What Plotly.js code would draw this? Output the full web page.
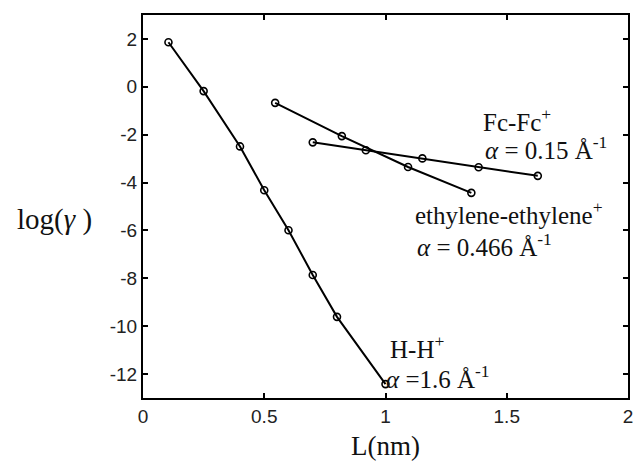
<!DOCTYPE html>
<html>
<head>
<meta charset="utf-8">
<script src="https://cdn.plot.ly/plotly-3.0.1.min.js"></script>
<style>html,body{margin:0;padding:0;background:#fff;}#chart{width:633px;height:464px;}</style>
</head>
<body>
<div id="chart"></div>
<script>
// H-H+ series
var hhX = [0.105, 0.25, 0.40, 0.50, 0.60, 0.70, 0.80, 1.00];
var hhY = [1.86, -0.18, -2.49, -4.32, -5.99, -7.86, -9.61, -12.42];
// ethylene-ethylene+ series
var ethX = [0.545, 0.82, 1.093, 1.354];
var ethY = [-0.67, -2.06, -3.35, -4.43];
// Fc-Fc+ series
var fcX = [0.70, 0.919, 1.152, 1.384, 1.628];
var fcY = [-2.32, -2.65, -2.99, -3.36, -3.72];

var xTicks = [0, 0.5, 1, 1.5, 2];
var xTickText = ['0', '0.5', '1', '1.5', '2'];
var yTicks = [2, 0, -2, -4, -6, -8, -10, -12];
var yTickText = ['2', '0', '-2', '-4', '-6', '-8', '-10', '-12'];

function series(x, y) {
  return {
    x: x, y: y, type: 'scatter', mode: 'lines+markers',
    line: {color: '#000', width: 2},
    marker: {symbol: 'circle-open', size: 7, color: '#000', line: {width: 1.6, color: '#000'}},
    showlegend: false, hoverinfo: 'skip'
  };
}

var serif = 'Liberation Serif, Times New Roman, serif';
var annFont = {family: serif, size: 25, color: '#111'};

function ann(x, y, text) {
  return {x: x, y: y, xref: 'x', yref: 'y', text: text, showarrow: false,
          xanchor: 'left', yanchor: 'middle', font: annFont};
}

var layout = {
  width: 633, height: 464,
  margin: {l: 143, r: 5, t: 15, b: 66},
  paper_bgcolor: '#fff', plot_bgcolor: '#fff',
  xaxis: {
    range: [0, 2], tickvals: xTicks, ticktext: xTickText,
    ticks: 'inside', ticklen: 5, tickwidth: 2, tickcolor: '#000',
    showline: true, linewidth: 2, linecolor: '#000', mirror: 'ticks',
    showgrid: false, zeroline: false, ticklabeloverflow: 'allow',
    tickfont: {family: 'Liberation Sans, Arial, sans-serif', size: 19, color: '#222'},
    title: {text: 'L(nm)', font: {family: serif, size: 27, color: '#111'}, standoff: 10}
  },
  yaxis: {
    range: [-13, 3], tickvals: yTicks, ticktext: yTickText,
    ticks: 'inside', ticklen: 5, tickwidth: 2, tickcolor: '#000',
    showline: true, linewidth: 2, linecolor: '#000', mirror: 'ticks',
    showgrid: false, zeroline: false,
    tickfont: {family: 'Liberation Sans, Arial, sans-serif', size: 19, color: '#222'}
  },
  annotations: [
    {x: -0.183, y: 0.465, xref: 'paper', yref: 'paper', xanchor: 'center', yanchor: 'middle',
     text: 'log(<i>γ</i> )', showarrow: false, font: {family: serif, size: 29, color: '#111'}},
    ann(1.394, -1.40, 'Fc-Fc<sup>+</sup>'),
    ann(1.402, -2.57, '<i>α</i> = 0.15 Å<sup>-1</sup>'),
    ann(1.113, -5.28, 'ethylene-ethylene<sup>+</sup>'),
    ann(1.122, -6.61, '<i>α</i> = 0.466 Å<sup>-1</sup>'),
    ann(1.01, -10.86, 'H-H<sup>+</sup>'),
    ann(0.994, -12.11, '<i>α</i> =1.6 Å<sup>-1</sup>')
  ]
};

Plotly.newPlot('chart', [series(hhX, hhY), series(ethX, ethY), series(fcX, fcY)], layout, {displayModeBar: false, staticPlot: true});
</script>
</body>
</html>
